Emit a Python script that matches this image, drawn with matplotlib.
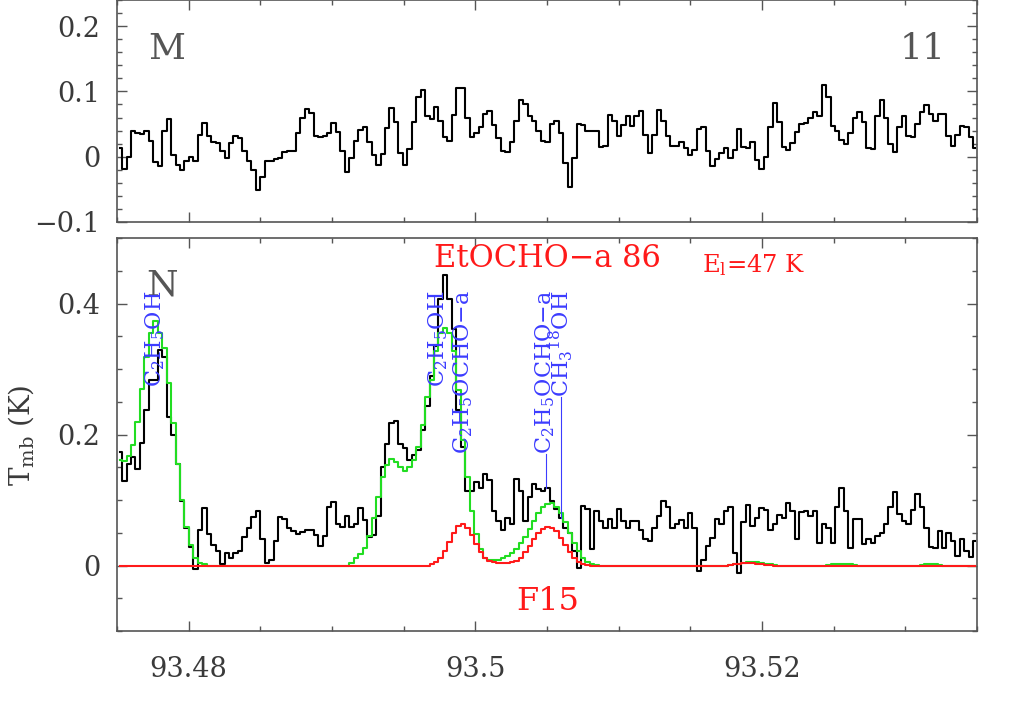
import matplotlib

matplotlib.use("Agg")

import matplotlib.pyplot as plt
import numpy as np
from matplotlib.ticker import MultipleLocator, FuncFormatter

plt.rcParams["font.family"] = "DejaVu Serif"
plt.rcParams["mathtext.fontset"] = "dejavuserif"

# channel grid (GHz)
f_first = 93.47520
f_chan = 0.0003109

# upper panel: residual spectrum (K)
top_spec = [
    0.013, -0.019, -0.001, 0.040, 0.036, 0.034, 0.039, 0.024, -0.008, -0.014,
    0.040, 0.057, 0.003, -0.012, -0.021, -0.007, -0.001, -0.006, 0.033, 0.051,
    0.031, 0.023, 0.021, 0.008, -0.002, 0.021, 0.031, 0.028, 0.009, -0.006,
    -0.021, -0.051, -0.031, -0.007, -0.006, -0.004, -0.002, 0.007, 0.009, 0.009,
    0.037, 0.059, 0.073, 0.067, 0.032, 0.030, 0.032, 0.036, 0.052,
    0.038, 0.008, -0.023, -0.002, 0.024, 0.041, 0.046, 0.022, 0.002, -0.012,
    0.004, 0.044, 0.074, 0.053, 0.005, -0.012, 0.012, 0.053, 0.091, 0.102,
    0.062, 0.058, 0.076, 0.054, 0.030, 0.024, 0.064, 0.105, 0.105, 0.059,
    0.030, 0.037, 0.045, 0.066, 0.070, 0.048, 0.028, 0.008, 0.007, 0.023,
    0.054, 0.087, 0.081, 0.063, 0.055, 0.039, 0.024, 0.023, 0.050,
    0.055, 0.036, -0.009, -0.046, -0.002, 0.050, 0.049, 0.040, 0.040, 0.040,
    0.015, 0.017, 0.064, 0.055, 0.031, 0.049, 0.063, 0.047, 0.063, 0.070,
    0.033, 0.006, 0.033, 0.072, 0.055, 0.031, 0.017, 0.017, 0.022, 0.013,
    0.003, 0.011, 0.042, 0.045, 0.009, -0.015, -0.004, 0.005, 0.014, -0.002,
    0.011, 0.042, 0.015, 0.014, 0.022, -0.005, -0.019, -0.001,
    0.046, 0.082, 0.053, 0.015, 0.011, 0.021, 0.038, 0.050, 0.052, 0.060,
    0.069, 0.063, 0.110, 0.092, 0.047, 0.040, 0.026, 0.020, 0.036, 0.059,
    0.069, 0.053, 0.014, 0.012, 0.062, 0.087, 0.060, 0.020, 0.007, 0.045,
    0.062, 0.031, 0.030, 0.050, 0.068, 0.079, 0.065, 0.054, 0.066, 0.065,
    0.032, 0.017, 0.033, 0.047, 0.046, 0.030, 0.014,
]

# lower panel: observed spectrum (K)
obs_spec = [
    0.173, 0.129, 0.155, 0.165, 0.148, 0.187, 0.237, 0.284, 0.284, 0.329,
    0.319, 0.227, 0.199, 0.155, 0.099, 0.058, 0.028, -0.006, 0.055, 0.088,
    0.048, 0.032, 0.022, 0.002, 0.019, 0.012, 0.019, 0.022, 0.043, 0.058,
    0.074, 0.084, 0.040, 0.004, 0.009, 0.037, 0.074, 0.071, 0.057, 0.053,
    0.048, 0.051, 0.054, 0.055, 0.047, 0.030, 0.045, 0.090, 0.097, 0.064,
    0.059, 0.076, 0.059, 0.063, 0.088, 0.069, 0.043, 0.047, 0.076, 0.150,
    0.185, 0.218, 0.221, 0.185, 0.179, 0.161,
    0.168, 0.176, 0.207, 0.243, 0.289, 0.335, 0.407, 0.443, 0.407, 0.361,
    0.237, 0.181, 0.114, 0.114, 0.127, 0.119, 0.140, 0.130, 0.084, 0.068,
    0.055, 0.073, 0.063, 0.132, 0.114, 0.068, 0.104, 0.125, 0.117, 0.114,
    0.119, 0.099, 0.086, 0.073, 0.058, 0.050, 0.022, -0.004, 0.091, 0.086,
    0.025, 0.084, 0.068, 0.058, 0.071, 0.058, 0.086, 0.068, 0.058, 0.068,
    0.068, 0.055, 0.040, 0.038, 0.058, 0.076, 0.099, 0.089, 0.058, 0.064,
    0.070, 0.058, 0.080, 0.058,
    -0.009, 0.009, 0.030, 0.042, 0.071, 0.064, 0.083, 0.090, 0.019, -0.011,
    0.066, 0.093, 0.061, 0.073, 0.088, 0.085, 0.055, 0.063, 0.077, 0.073,
    0.095, 0.084, 0.040, 0.081, 0.083, 0.076, 0.083, 0.035, 0.064, 0.058,
    0.035, 0.090, 0.119, 0.083, 0.027, 0.071, 0.071, 0.033, 0.040, 0.035,
    0.045, 0.049, 0.063, 0.089, 0.113, 0.079, 0.068, 0.064, 0.085, 0.109,
    0.089, 0.058, 0.028, 0.027, 0.053, 0.027, 0.050, 0.038, 0.014, 0.040,
    0.022, 0.013, 0.038,
]

# model including all molecules (green)
model_all = (
    [0.161, 0.159, 0.167, 0.184, 0.219, 0.269, 0.319, 0.355, 0.373, 0.355,
     0.332, 0.278, 0.217, 0.155, 0.100, 0.059, 0.032, 0.012, 0.004, 0.002]
    + [0.0] * 32
    + [0.004, 0.012, 0.017, 0.027, 0.045, 0.073, 0.104, 0.135, 0.154, 0.163,
       0.158, 0.150, 0.145, 0.150]
    + [0.161, 0.181, 0.214, 0.258, 0.284, 0.327, 0.355, 0.363, 0.355, 0.327,
       0.268, 0.191, 0.135, 0.084, 0.048, 0.025, 0.012, 0.008, 0.008, 0.009,
       0.011, 0.014, 0.019, 0.026, 0.034, 0.044, 0.056, 0.068, 0.080, 0.089,
       0.094, 0.095, 0.090, 0.080, 0.066, 0.050, 0.035, 0.022, 0.012, 0.006,
       0.003, 0.001]
    + [0.0] * 29
    + [0.001, 0.002, 0.003, 0.004, 0.005, 0.005, 0.005, 0.004, 0.003, 0.002, 0.001]
    + [0.0] * 11
    + [0.001, 0.002, 0.003, 0.003, 0.003, 0.002, 0.001]
    + [0.0] * 14
    + [0.001, 0.002, 0.002, 0.002, 0.001]
    + [0.0] * 8
)

# model of EtOCHO-a alone (red)
model_etocho = (
    [0.0] * 70
    + [0.002, 0.005, 0.011, 0.022, 0.036, 0.050, 0.060, 0.063, 0.058, 0.047,
       0.033, 0.021, 0.012, 0.007, 0.005, 0.004, 0.004, 0.004, 0.005, 0.007,
       0.012, 0.020, 0.030, 0.041, 0.050, 0.056, 0.059, 0.058, 0.052, 0.042,
       0.031, 0.020, 0.012, 0.006, 0.003, 0.001]
    + [0.0] * 31
    + [0.001, 0.002, 0.003, 0.004, 0.004, 0.004, 0.003, 0.002, 0.001, 0.001]
    + [0.0] * 46
)

# line identifications (GHz)
line_names = [r"C$_2$H$_5$OH", r"C$_2$H$_5$OH", r"C$_2$H$_5$OCHO$-$a",
              r"C$_2$H$_5$OCHO$-$a", r"CH$_3$$^{18}$OH"]
line_freqs = [93.47765, 93.49740, 93.49914, 93.50491, 93.50596]

freq = f_first + f_chan * np.arange(len(obs_spec))

gray = "#555555"
blue = "#3c3cff"
red = "#ff1a1a"


def fmt(v, pos):
    s = "%g" % round(v, 3)
    return s.replace("-", "\u2212")


def style_axis(ax, ymajor, yminor):
    ax.set_xlim(93.475, 93.535)
    ax.xaxis.set_major_locator(MultipleLocator(0.02))
    ax.xaxis.set_minor_locator(MultipleLocator(0.005))
    ax.yaxis.set_major_locator(MultipleLocator(ymajor))
    ax.yaxis.set_minor_locator(MultipleLocator(yminor))
    ax.yaxis.set_major_formatter(FuncFormatter(fmt))
    ax.xaxis.set_major_formatter(FuncFormatter(fmt))
    ax.tick_params(which="both", direction="in", top=True, right=True,
                   color=gray, width=1.0, labelcolor="#3a3a3a", labelsize=19.5)
    ax.tick_params(which="major", length=7.5)
    ax.tick_params(which="minor", length=3.8)
    ax.tick_params(axis="y", pad=12)
    ax.tick_params(axis="x", pad=18)
    for sp in ax.spines.values():
        sp.set_color(gray)
        sp.set_linewidth(1.2)


fig = plt.figure(figsize=(10.25, 7.17), dpi=100)
ax1 = fig.add_axes([0.1141, 0.6904, 0.8390, 0.3096])
ax2 = fig.add_axes([0.1141, 0.1199, 0.8390, 0.5481])

ax1.step(freq, top_spec, where="mid", color="black", lw=1.5)
style_axis(ax1, 0.1, 0.02)
ax1.set_ylim(-0.1, 0.24)
ax1.tick_params(axis="x", labelbottom=False)
ax1.text(0.036, 0.78, "M", transform=ax1.transAxes, fontsize=26, color=gray,
         ha="left", va="center")
ax1.text(0.964, 0.78, "11", transform=ax1.transAxes, fontsize=26, color=gray,
         ha="right", va="center")

ax2.step(freq, obs_spec, where="mid", color="black", lw=1.5, zorder=3)
ax2.step(freq, model_all, where="mid", color="#22dd22", lw=1.5, zorder=4)
ax2.step(freq, model_etocho, where="mid", color=red, lw=1.5, zorder=5)
style_axis(ax2, 0.2, 0.05)
ax2.set_ylim(-0.1, 0.5)

ax2.text(0.034, 0.878, "N", transform=ax2.transAxes, fontsize=26, color=gray,
         ha="left", va="center")
ax2.text(0.5, 0.947, "EtOCHO\u2212a 86", transform=ax2.transAxes, fontsize=22,
         color=red, ha="center", va="center")
ax2.text(0.741, 0.931, r"E$_{\rm l}$=47 K", transform=ax2.transAxes,
         fontsize=17.5, color=red, ha="center", va="center")
ax2.text(0.501, 0.074, "F15", transform=ax2.transAxes, fontsize=23,
         color=red, ha="center", va="center")

label_top = 0.42
labels = []
for name, lf in zip(line_names, line_freqs):
    t = ax2.text(lf, label_top, name, rotation=90, ha="center", va="top",
                 fontsize=16, color=blue, zorder=6)
    labels.append(t)

fig.canvas.draw()
inv = ax2.transData.inverted()
for t, lf in zip(labels, line_freqs):
    bb = t.get_window_extent()
    y_bottom = inv.transform((bb.x0, bb.y0))[1]
    k = int(np.argmin(np.abs(freq - lf)))
    y_spec = obs_spec[k]
    if y_bottom > y_spec:
        ax2.plot([lf, lf], [y_spec, y_bottom], color=blue, lw=0.8, zorder=6)

fig.text(0.02, 0.393, r"T$_{\rm mb}$ (K)", rotation=90, fontsize=20,
         color="#3a3a3a", ha="center", va="center")

fig.savefig("out.png", dpi=100)
